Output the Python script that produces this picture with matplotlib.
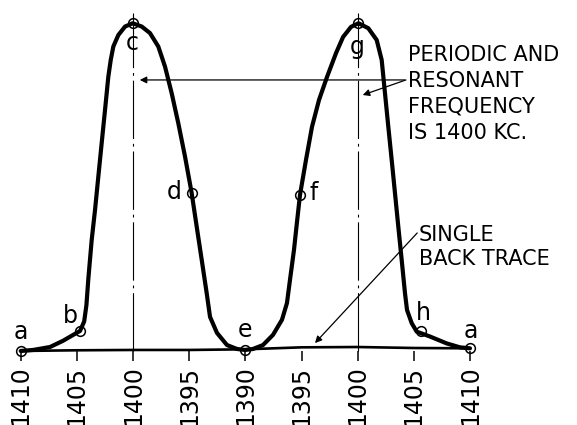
import matplotlib
matplotlib.use('Agg')
import matplotlib.pyplot as plt

# sweep positions (tick units) and frequency labels along the sweep
tick_pos = [0, 1, 2, 3, 4, 5, 6, 7, 8]
tick_labels = ['1410', '1405', '1400', '1395', '1390', '1395', '1400', '1405', '1410']

# forward trace: position along sweep, relative response (peak = 100)
trace_x = [0.000, 0.219, 0.522, 0.753, 1.056, 1.130, 1.170, 1.204, 1.264,
           1.323, 1.382, 1.442, 1.501, 1.560, 1.603, 1.649, 1.738, 1.858,
           1.994, 2.155, 2.302, 2.450, 2.569, 2.689, 2.806, 2.926, 3.045,
           3.134, 3.223, 3.312, 3.371, 3.495, 3.673, 3.851, 3.994, 4.136,
           4.314, 4.492, 4.652, 4.741, 4.795, 4.866, 4.920, 4.973, 5.080,
           5.187, 5.312, 5.454, 5.615, 5.740, 5.882, 6.015, 6.189, 6.339,
           6.428, 6.487, 6.546, 6.606, 6.665, 6.724, 6.784, 6.843, 6.879,
           6.962, 7.051, 7.288, 7.585, 7.822, 8.000]
trace_y = [0.0, 0.3, 1.2, 3.1, 6.1, 9.0, 14.0, 22.0, 33.9,
           43.0, 53.2, 63.5, 73.5, 83.7, 88.8, 92.9, 96.4, 99.0,
           100.0, 99.0, 97.0, 92.9, 86.8, 78.6, 69.5, 59.3, 48.1,
           37.9, 27.8, 17.6, 10.4, 5.5, 1.8, 0.6, 0.3, 0.6,
           1.8, 4.9, 9.5, 14.6, 21.7, 30.8, 39.4, 47.6, 58.3,
           68.4, 76.6, 83.6, 90.9, 95.8, 98.9, 100.0, 98.5, 94.9,
           88.8, 78.6, 68.4, 58.3, 48.1, 37.9, 27.8, 17.6, 12.5,
           8.5, 5.9, 4.4, 2.3, 1.1, 0.8]

# single back trace (returns from right to left)
back_x = [8.0, 7.0, 6.0, 5.0, 4.0, 3.0, 2.0, 1.0, 0.0]
back_y = [0.8, 0.9, 1.2, 1.1, 0.5, 0.3, 0.3, 0.2, 0.0]

# lettered points on the trace
point_names = ['a', 'b', 'c', 'd', 'e', 'f', 'g', 'h', 'a']
point_x = [0.0, 1.056, 1.994, 3.045, 3.994, 4.973, 6.015, 7.12, 8.0]
point_y = [0.0, 6.1, 100.0, 48.1, 0.3, 47.6, 100.0, 6.2, 0.8]

# resonance centre lines
center_x = [2, 6]

plt.rcParams['font.family'] = ['DejaVu Sans']
plt.rcParams['lines.scale_dashes'] = False

fig = plt.figure(figsize=(5.77, 4.25), dpi=100)
ax = fig.add_axes([0, 0, 1, 1])
ax.set_xlim(-0.369, 9.906)
ax.set_ylim(-22.6, 107.1)

for cx in center_x:
    ax.plot([cx, cx], [0, 103.1], color='black', lw=0.8,
            linestyle=(0, (42, 3.5, 2, 3.5)))

ax.plot(back_x, back_y, color='black', lw=1.9, solid_capstyle='round')
ax.plot(trace_x, trace_y, color='black', lw=3.0, solid_joinstyle='round',
        solid_capstyle='round')
ax.plot(point_x, point_y, linestyle='none', marker='o', markersize=7,
        markerfacecolor='none', markeredgecolor='black', markeredgewidth=1.1)

# letter placement: (dx, y, ha, va)
offsets = [(0.0, 3.7, 'center', 'baseline'),
           (-0.17, 8.5, 'center', 'baseline'),
           (0.0, 97.5, 'center', 'top'),
           (-0.31, 48.5, 'center', 'center'),
           (0.0, 4.3, 'center', 'baseline'),
           (0.24, 48.2, 'center', 'center'),
           (-0.02, 96.3, 'center', 'top'),
           (0.05, 9.5, 'center', 'baseline'),
           (0.02, 4.0, 'center', 'baseline')]
for name, px, (dx, ty, ha, va) in zip(point_names, point_x, offsets):
    ax.text(px + dx, ty, name, fontsize=17, ha=ha, va=va)

ax.text(6.90, 93.4, 'PERIODIC AND\nRESONANT\nFREQUENCY\nIS 1400 KC.',
        fontsize=15, ha='left', va='top', linespacing=1.37)
ax.text(7.09, 38.4, 'SINGLE\nBACK TRACE', fontsize=15, ha='left', va='top',
        linespacing=1.22)

arrow = dict(arrowstyle='-|>', color='black', lw=0.9, mutation_scale=10,
             shrinkA=0, shrinkB=0)
ax.annotate('', xy=(2.12, 82.7), xytext=(6.84, 82.7), arrowprops=arrow)
ax.annotate('', xy=(6.09, 78.1), xytext=(6.86, 82.7), arrowprops=arrow)
ax.annotate('', xy=(5.24, 2.4), xytext=(7.06, 36.0), arrowprops=arrow)

for side in ['top', 'right', 'left', 'bottom']:
    ax.spines[side].set_visible(False)
ax.spines['bottom'].set_position(('data', 0))
ax.set_yticks([])
ax.set_xticks(tick_pos)
ax.set_xticklabels(tick_labels, rotation=90, fontsize=17)
ax.tick_params(axis='x', direction='out', length=7.5, width=1.1, pad=3)

fig.savefig('out.png', dpi=100)
